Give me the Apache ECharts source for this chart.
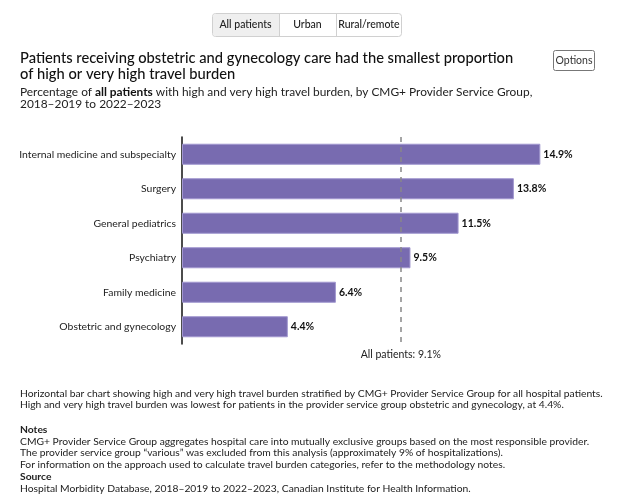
<!DOCTYPE html>
<html>
<head>
<meta charset="utf-8">
<script src="https://cdn.jsdelivr.net/npm/echarts@6/dist/echarts.min.js"></script>
<style>
html,body{margin:0;padding:0;background:#fff;}
#chart{width:636px;height:499px;}
</style>
</head>
<body>
<div id="chart"></div>
<script>
var categories = ['Internal medicine and subspecialty','Surgery','General pediatrics','Psychiatry','Family medicine','Obstetric and gynecology'];
var values = [14.9, 13.8, 11.5, 9.5, 6.4, 4.4];
var allPatients = 9.1;
var tabs = ['All patients','Urban','Rural/remote'];

var FONT = 'Lato, "Noto Sans", sans-serif';
var chart = echarts.init(document.getElementById('chart'), null, {renderer:'canvas'});

var noteLines = [
 {t:'Horizontal bar chart showing high and very high travel burden stratified by CMG+ Provider Service Group for all hospital patients.', y:393.5, b:false},
 {t:'High and very high travel burden was lowest for patients in the provider service group obstetric and gynecology, at 4.4%.', y:405, b:false},
 {t:'Notes', y:429.5, b:true},
 {t:'CMG+ Provider Service Group aggregates hospital care into mutually exclusive groups based on the most responsible provider.', y:441.5, b:false},
 {t:'The provider service group \u201cvarious\u201d was excluded from this analysis (approximately 9% of hospitalizations).', y:453, b:false},
 {t:'For information on the approach used to calculate travel burden categories, refer to the methodology notes.', y:465, b:false},
 {t:'Source', y:476.5, b:true},
 {t:'Hospital Morbidity Database, 2018\u20132019 to 2022\u20132023, Canadian Institute for Health Information.', y:488.5, b:false}
];

var graphics = [];
// tabs
var tabX = [212, 279, 336, 402];
graphics.push({type:'rect', shape:{x:212.5, y:13.5, width:189, height:23, r:3}, style:{fill:'#fff', stroke:'#d0d0d0', lineWidth:1}});
graphics.push({type:'rect', shape:{x:213, y:14, width:66, height:22, r:[3,0,0,3]}, style:{fill:'#efefef'}});
graphics.push({type:'line', shape:{x1:279.5, y1:14, x2:279.5, y2:36}, style:{stroke:'#d0d0d0', lineWidth:1}});
graphics.push({type:'line', shape:{x1:336.5, y1:14, x2:336.5, y2:36}, style:{stroke:'#d0d0d0', lineWidth:1}});
for (var i=0;i<tabs.length;i++){
  graphics.push({type:'text', x:(tabX[i]+tabX[i+1])/2, y:25, style:{text:tabs[i], font:'500 10.5px '+FONT, fill:'#222', align:'center', verticalAlign:'middle'}});
}
// options button
graphics.push({type:'rect', shape:{x:553.5, y:50.5, width:41, height:20, r:2}, style:{fill:'#fff', stroke:'#777', lineWidth:1}});
graphics.push({type:'text', x:574, y:60.5, style:{text:'Options', font:'10.5px '+FONT, fill:'#333', align:'center', verticalAlign:'middle'}});
// title
graphics.push({type:'text', x:20, y:58, style:{text:'Patients receiving obstetric and gynecology care had the smallest proportion', font:'500 14.7px '+FONT, fill:'#111', verticalAlign:'middle'}});
graphics.push({type:'text', x:20, y:74, style:{text:'of high or very high travel burden', font:'500 14.7px '+FONT, fill:'#111', verticalAlign:'middle'}});
graphics.push({type:'text', x:20, y:92, style:{text:'Percentage of {b|all patients} with high and very high travel burden, by CMG+ Provider Service Group,', font:'11.9px '+FONT, fill:'#222', verticalAlign:'middle', rich:{b:{fontWeight:'bold', fontSize:11.9, fontFamily:FONT, fill:'#111'}}}});
graphics.push({type:'text', x:20, y:104, style:{text:'2018\u20132019 to 2022\u20132023', font:'11.9px '+FONT, fill:'#222', verticalAlign:'middle'}});
// notes
noteLines.forEach(function(l){
  graphics.push({type:'text', x:20, y:l.y, style:{text:l.t, font:(l.b?'bold ':'')+'10.3px '+FONT, fill:'#222', verticalAlign:'middle'}});
});

var option = {
  backgroundColor:'#fff',
  animation:false,
  textStyle:{fontFamily:FONT},
  grid:{left:182, top:137, width:384.8, height:207},
  xAxis:{type:'value', min:0, max:16, show:false},
  yAxis:{type:'category', data:categories, inverse:true,
    axisLine:{show:true, lineStyle:{color:'#111', width:1.5}},
    axisTick:{show:false},
    axisLabel:{fontSize:10.4, color:'#222', margin:6, fontFamily:FONT}
  },
  series:[{
    type:'bar', data:values, barCategoryGap:'39%',
    itemStyle:{color:'#786bb0', borderColor:'#a197cf', borderWidth:1},
    label:{show:true, position:'right', distance:3, fontSize:10.5, fontWeight:'bold', color:'#111', fontFamily:FONT,
      formatter:function(p){return p.value.toFixed(1)+'%';}},
    markLine:{silent:true, symbol:'none', data:[{xAxis:allPatients}],
      lineStyle:{type:[5,5], color:'#888', width:1.5},
      label:{show:true, position:'end', formatter:function(p){return 'All patients: '+p.value.toFixed(1)+'%';}, fontSize:10.5, color:'#222', fontFamily:FONT, distance:5}
    },
    z:2
  }],
  graphic:graphics
};
chart.setOption(option);
</script>
</body>
</html>
